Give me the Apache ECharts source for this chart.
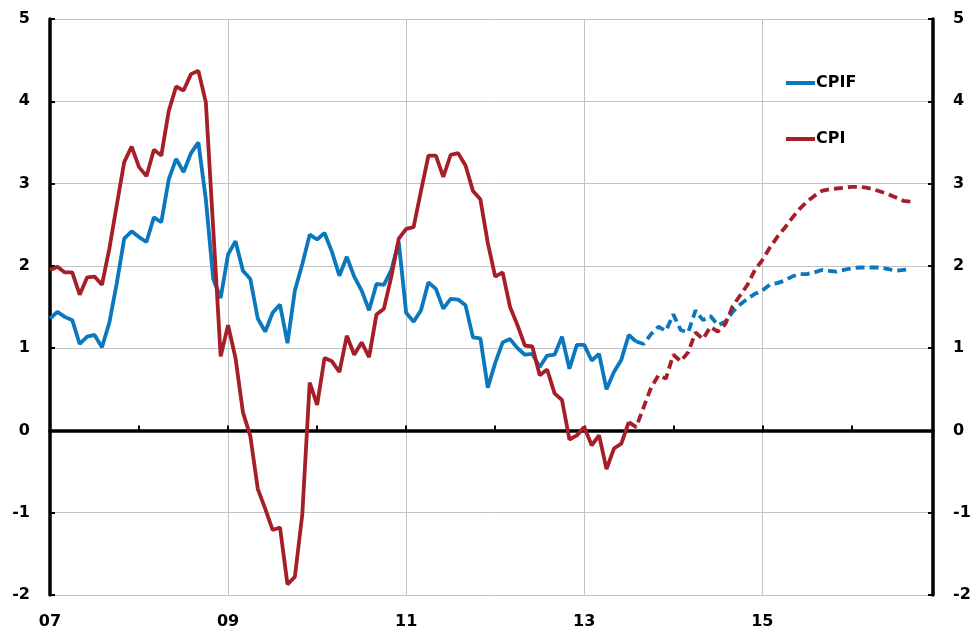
<!DOCTYPE html>
<html>
<head>
<meta charset="utf-8">
<script src="https://cdn.jsdelivr.net/npm/echarts@6/dist/echarts.min.js"></script>
<style>
  html, body { margin: 0; padding: 0; background: #fff; }
  #main { width: 974px; height: 631px; }
</style>
</head>
<body>
<div id="main"></div>
<script>
// monthly, Jan 2007 .. Dec 2016
var months = [];
for (var y = 2007; y <= 2016; y++) {
  for (var m = 1; m <= 12; m++) months.push(y + '-' + (m < 10 ? '0' + m : m));
}

// CPIF, Jan 2007 .. Sep 2016 (actual to index 79, forecast after)
var cpif = [
  1.36, 1.44, 1.38, 1.34, 1.05, 1.14, 1.16, 1.01, 1.31, 1.79, 2.33, 2.42,
  2.35, 2.29, 2.59, 2.53, 3.05, 3.30, 3.14, 3.37, 3.50, 2.81, 1.84, 1.61,
  2.14, 2.30, 1.94, 1.84, 1.36, 1.20, 1.43, 1.53, 1.06, 1.70, 2.02, 2.38,
  2.32, 2.40, 2.17, 1.88, 2.11, 1.87, 1.70, 1.46, 1.78, 1.77, 1.95, 2.29,
  1.43, 1.32, 1.46, 1.80, 1.72, 1.48, 1.60, 1.59, 1.52, 1.13, 1.12, 0.52,
  0.82, 1.07, 1.11, 1.00, 0.92, 0.93, 0.77, 0.91, 0.92, 1.14, 0.75, 1.04,
  1.04, 0.85, 0.93, 0.50, 0.71, 0.86, 1.16, 1.08, 1.05, 1.17, 1.26, 1.21,
  1.41, 1.22, 1.19, 1.46, 1.34, 1.39, 1.28, 1.32, 1.44, 1.53, 1.60, 1.66,
  1.70, 1.77, 1.79, 1.82, 1.87, 1.90, 1.90, 1.92, 1.95, 1.94, 1.93, 1.95,
  1.97, 1.98, 1.98, 1.98, 1.98, 1.96, 1.94, 1.95, 1.96
];
var cpifLastActual = 79;

// CPI, Jan 2007 .. Sep 2016 (actual to index 78, forecast after)
var cpi = [
  1.95, 1.99, 1.92, 1.92, 1.65, 1.86, 1.87, 1.77, 2.21, 2.74, 3.26, 3.45,
  3.20, 3.09, 3.41, 3.34, 3.88, 4.18, 4.13, 4.33, 4.37, 3.99, 2.45, 0.90,
  1.28, 0.88, 0.22, -0.07, -0.71, -0.95, -1.21, -1.18, -1.87, -1.78, -1.02, 0.58,
  0.31, 0.88, 0.84, 0.71, 1.15, 0.92, 1.07, 0.89, 1.41, 1.48, 1.87, 2.33,
  2.45, 2.47, 2.91, 3.34, 3.34, 3.08, 3.35, 3.37, 3.22, 2.91, 2.81, 2.28,
  1.87, 1.92, 1.50, 1.28, 1.03, 1.02, 0.67, 0.74, 0.45, 0.37, -0.11, -0.06,
  0.04, -0.18, -0.06, -0.47, -0.22, -0.16, 0.10, 0.04, 0.28, 0.52, 0.67, 0.63,
  0.92, 0.84, 0.95, 1.19, 1.11, 1.26, 1.20, 1.29, 1.51, 1.64, 1.77, 1.95,
  2.07, 2.22, 2.35, 2.46, 2.58, 2.69, 2.78, 2.85, 2.91, 2.93, 2.94, 2.95,
  2.96, 2.96, 2.95, 2.93, 2.90, 2.87, 2.83, 2.79, 2.78
];
var cpiLastActual = 78;

var yTicks = [-2, -1, 0, 1, 2, 3, 4, 5];

var blue = '#0b77bd';
var red = '#a51e28';

function actual(arr, last) { return arr.slice(0, last + 1); }
function forecast(arr, last) {
  return arr.map(function (v, i) { return i < last ? null : v; });
}

var labelFont = { color: '#000', fontFamily: 'DejaVu Sans', fontWeight: 'bold', fontSize: 16 };

var myChart = echarts.init(document.getElementById('main'));
var option = {
  animation: false,
  grid: { left: 50, right: 41, top: 19, bottom: 36, containLabel: false },
  legend: {
    orient: 'vertical',
    left: 781,
    top: 70,
    icon: 'rect',
    itemWidth: 29,
    itemHeight: 4,
    itemGap: 40,
    data: ['CPIF', 'CPI'],
    textStyle: { color: '#000', fontFamily: 'DejaVu Sans', fontWeight: 'bold', fontSize: 16, padding: [0, 0, 0, -4] }
  },
  xAxis: [
    {
      type: 'category',
      data: months,
      boundaryGap: false,
      axisLine: { onZero: true, lineStyle: { color: '#000', width: 3.5 } },
      axisTick: { inside: true, length: 5, lineStyle: { color: '#000', width: 2 },
        interval: function (i) { return i % 12 === 0; } },
      axisLabel: { show: false },
      splitLine: { show: false }
    },
    {
      type: 'category',
      data: months,
      boundaryGap: false,
      position: 'bottom',
      axisLine: { show: false, onZero: false },
      axisTick: { show: false },
      axisLabel: Object.assign({
        margin: 19,
        interval: function (i) { return i % 24 === 0; },
        formatter: function (v) { return v.slice(2, 4); }
      }, labelFont),
      splitLine: { show: true, lineStyle: { color: '#c3c3c3', width: 1 },
        interval: function (i) { return i % 24 === 0 && i > 0; } }
    }
  ],
  yAxis: [
    {
      type: 'value',
      min: yTicks[0],
      max: yTicks[yTicks.length - 1],
      interval: 1,
      axisLine: { show: true, lineStyle: { color: '#000', width: 3.5 } },
      axisTick: { show: true, inside: true, length: 5, lineStyle: { color: '#000', width: 2 } },
      axisLabel: Object.assign({ margin: 20 }, labelFont),
      splitLine: { show: true, lineStyle: { color: '#c3c3c3', width: 1 } }
    },
    {
      type: 'value',
      position: 'right',
      min: yTicks[0],
      max: yTicks[yTicks.length - 1],
      interval: 1,
      axisLine: { show: true, onZero: false, lineStyle: { color: '#000', width: 3.5 } },
      axisTick: { show: true, inside: true, length: 5, lineStyle: { color: '#000', width: 2 } },
      axisLabel: Object.assign({ margin: 20 }, labelFont),
      splitLine: { show: false }
    }
  ],
  series: [
    {
      name: 'CPIF', type: 'line', symbol: 'none', color: blue,
      lineStyle: { width: 3.8, color: blue },
      data: actual(cpif, cpifLastActual)
    },
    {
      name: 'CPIF forecast', type: 'line', symbol: 'none', color: blue,
      lineStyle: { width: 3.8, color: blue, type: [9, 5] },
      data: forecast(cpif, cpifLastActual)
    },
    {
      name: 'CPI', type: 'line', symbol: 'none', color: red,
      lineStyle: { width: 3.8, color: red },
      data: actual(cpi, cpiLastActual)
    },
    {
      name: 'CPI forecast', type: 'line', symbol: 'none', color: red,
      lineStyle: { width: 3.8, color: red, type: [9, 5] },
      data: forecast(cpi, cpiLastActual)
    }
  ]
};

myChart.setOption(option);
</script>
</body>
</html>
